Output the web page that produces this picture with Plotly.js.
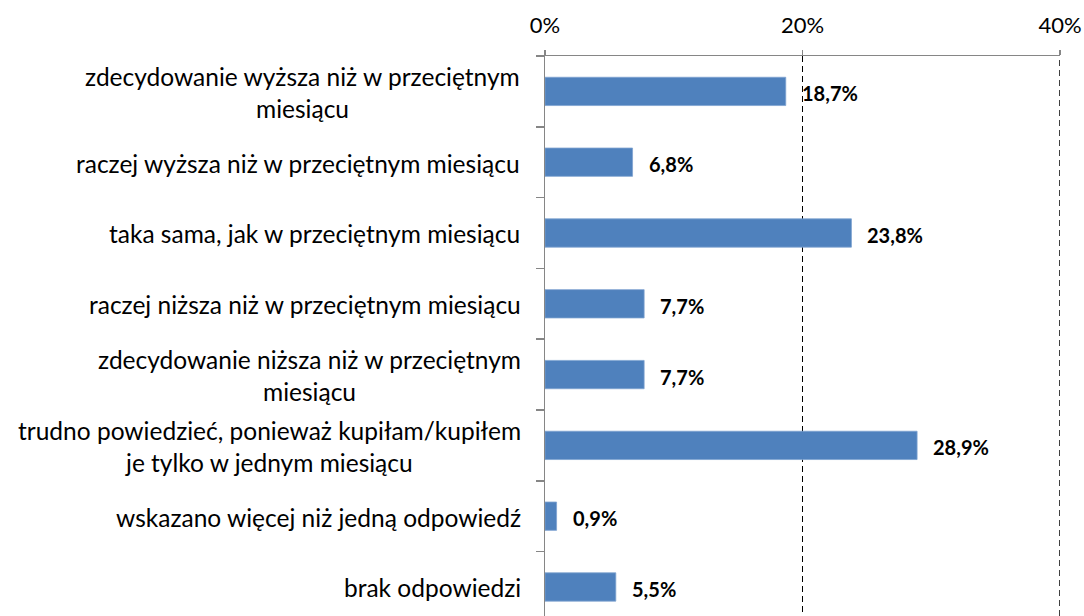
<!DOCTYPE html>
<html>
<head>
<meta charset="utf-8">
<script src="https://cdn.plot.ly/plotly-3.0.1.min.js"></script>
<style>html,body{margin:0;padding:0;background:#fff;}#chart{width:1084px;height:616px;}</style>
</head>
<body>
<div id="chart"></div>
<script>
const categories = [
  "zdecydowanie wyższa niż w przeciętnym<br>miesiącu",
  "raczej wyższa niż w przeciętnym miesiącu",
  "taka sama, jak w przeciętnym miesiącu",
  "raczej niższa niż w przeciętnym miesiącu",
  "zdecydowanie niższa niż w przeciętnym<br>miesiącu",
  "trudno powiedzieć, ponieważ kupiłam/kupiłem<br>je tylko w jednym miesiącu",
  "wskazano więcej niż jedną odpowiedź",
  "brak odpowiedzi"
];
const values = [18.7, 6.8, 23.8, 7.7, 7.7, 28.9, 0.9, 5.5];
const valueLabels = ["18,7%", "6,8%", "23,8%", "7,7%", "7,7%", "28,9%", "0,9%", "5,5%"];
const xTickValues = [0, 20, 40];
const xTickLabels = ["0%", "20%", "40%"];

const FONT = "Lato, 'Open Sans', sans-serif";
const LABEL_SIZE = 24.5;

const trace = {
  type: 'bar', orientation: 'h',
  x: values, y: categories,
  marker: {color: '#4F81BD', line: {color: '#7FA3D0', width: 0.8}},
  hoverinfo: 'none'
};

const layout = {
  width: 1084, height: 616,
  margin: {l: 545, r: 24, t: 56, b: 0, pad: 0},
  paper_bgcolor: '#fff', plot_bgcolor: '#fff',
  showlegend: false,
  bargap: 0.6,
  font: {family: FONT, color: '#000'},
  xaxis: {
    side: 'top', range: [0, 40], tickvals: xTickValues, ticktext: xTickLabels,
    showline: true, linecolor: '#868686', linewidth: 1.5,
    ticks: 'outside', ticklen: 5, tickcolor: '#868686', tickwidth: 1.5,
    ticklabelstandoff: 8,
    showgrid: true, gridcolor: '#000', gridwidth: 1.5, griddash: '6px,4px',
    zeroline: false,
    tickfont: {family: FONT, size: 22, color: '#000'}
  },
  yaxis: {
    type: 'category', range: [7.41, -0.5],
    showticklabels: false,
    showline: true, linecolor: '#868686', linewidth: 1.5,
    ticks: 'outside', ticklen: 8, tickcolor: '#868686', tickwidth: 1.5,
    tickson: 'boundaries', showgrid: false, zeroline: false
  },
  shapes: [{
    type: 'line', xref: 'x', yref: 'paper', x0: xTickValues[2], x1: xTickValues[2], y0: 0, y1: 1,
    line: {color: '#000', width: 1.5, dash: '6px,4px'}
  }],
  annotations: []
};

function measure(txt, size, family) {
  const c = document.createElement('canvas').getContext('2d');
  c.font = size + 'px ' + family;
  return c.measureText(txt).width;
}

Plotly.newPlot('chart', [trace], layout, {displayModeBar: false, staticPlot: true})
.then(gd => document.fonts.ready.then(() => gd))
.then(gd => {
  const anns = [];
  const rightEdge = -24;
  categories.forEach((c, i) => {
    const lines = c.split('<br>');
    const widths = lines.map(l => measure(l, LABEL_SIZE, "Lato"));
    const maxW = Math.max.apply(null, widths);
    lines.forEach((ln, k) => {
      const offset = (k - (lines.length - 1) / 2) * 32;
      anns.push({
        xref: 'paper', yref: 'y', x: 0, y: c, text: ln, showarrow: false,
        xanchor: 'center', yanchor: 'middle',
        xshift: rightEdge - maxW / 2, yshift: -offset - 1,
        font: {family: FONT, size: LABEL_SIZE, color: '#000'}
      });
    });
    anns.push({
      xref: 'x', yref: 'y', x: values[i], y: c,
      text: '<b>' + valueLabels[i] + '</b>', showarrow: false,
      xanchor: 'left', yanchor: 'middle', xshift: 14, yshift: -2,
      font: {family: FONT, size: 20, color: '#000'}
    });
  });
  return Plotly.relayout(gd, {annotations: anns});
});
</script>
</body>
</html>
